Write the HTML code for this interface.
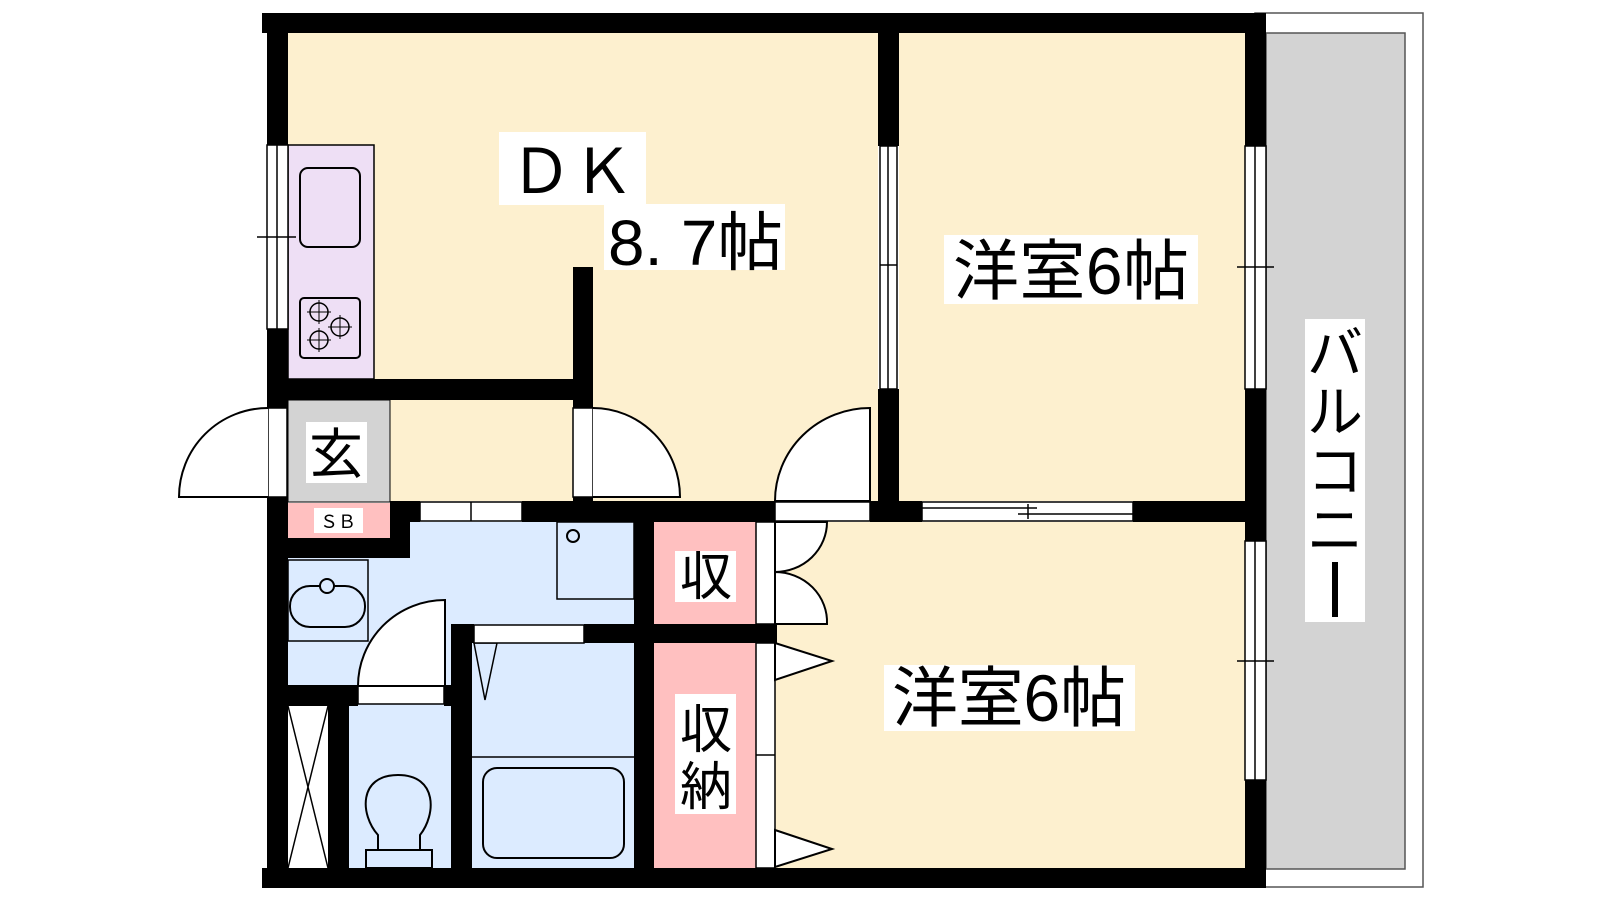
<!DOCTYPE html>
<html><head><meta charset="utf-8"><style>
html,body{margin:0;padding:0;background:#fff;width:1600px;height:900px;overflow:hidden}
svg{display:block}
text{font-family:"Liberation Sans","Noto Sans CJK JP",sans-serif;fill:#000}
</style></head><body>
<svg width="1600" height="900" viewBox="0 0 1600 900" xmlns="http://www.w3.org/2000/svg">
<!-- balcony -->
<rect x="1255" y="13" width="168" height="874" fill="#fff" stroke="#555" stroke-width="1.5"/>
<rect x="1266" y="33" width="139" height="836" fill="#d3d3d3" stroke="#555" stroke-width="1.5"/>
<!-- room fills -->
<rect x="288" y="33" width="590" height="468" fill="#fdf0cf"/>
<rect x="899" y="33" width="346" height="468" fill="#fdf0cf"/>
<rect x="775" y="522" width="470" height="346" fill="#fdf0cf"/>
<rect x="288" y="145" width="86" height="234" fill="#eedff5" stroke="#000" stroke-width="1.5"/>
<rect x="300" y="168" width="60" height="79" rx="8" fill="none" stroke="#000" stroke-width="2"/>
<rect x="300" y="298" width="60" height="60" rx="4" fill="none" stroke="#000" stroke-width="2"/>
<g fill="none" stroke="#000" stroke-width="1.5">
<circle cx="319" cy="312" r="9"/><circle cx="340" cy="327" r="9"/><circle cx="319" cy="340" r="9"/>
<path d="M319 300v24M307 312h24M340 315v24M328 327h24M319 328v24M307 340h24" stroke-width="1"/>
</g>
<rect x="288" y="400" width="102" height="102" fill="#d3d3d3" stroke="#000" stroke-width="1"/>
<!-- wet area -->
<rect x="288" y="522" width="346" height="346" fill="#dcebff"/>
<rect x="288" y="503" width="102" height="35" fill="#ffc0c0"/>
<rect x="288" y="560" width="80" height="81" fill="none" stroke="#000" stroke-width="1.5"/>
<rect x="290" y="586" width="75" height="41" rx="20" fill="none" stroke="#000" stroke-width="2"/>
<circle cx="327" cy="586" r="7" fill="#dcebff" stroke="#000" stroke-width="2"/>
<rect x="557" y="522" width="77" height="77" fill="none" stroke="#000" stroke-width="1.5"/>
<circle cx="573" cy="536" r="6" fill="none" stroke="#000" stroke-width="2"/>
<line x1="472" y1="757" x2="634" y2="757" stroke="#000" stroke-width="1.5"/>
<rect x="483" y="768" width="141" height="90" rx="14" fill="none" stroke="#000" stroke-width="2"/>
<polygon points="474,643 497,643 485,700" fill="none" stroke="#000" stroke-width="1.5"/>
<rect x="288" y="706" width="40" height="162" fill="#fff"/>
<path d="M288 706 L328 868 M328 706 L288 868" stroke="#000" stroke-width="1.5"/>
<path d="M378 850 L378 835 C360 815 358 775 398 775 C438 775 436 815 420 835 L420 850" fill="none" stroke="#000" stroke-width="2"/>
<rect x="366" y="850" width="66" height="18" fill="none" stroke="#000" stroke-width="2"/>
<!-- closets -->
<rect x="654" y="522" width="102" height="102" fill="#ffc0c0"/>
<rect x="654" y="643" width="102" height="225" fill="#ffc0c0"/>
<rect x="756" y="522" width="19" height="102" fill="#fff" stroke="#000" stroke-width="1.5"/>
<rect x="756" y="643" width="19" height="225" fill="#fff" stroke="#000" stroke-width="1.5"/>
<line x1="756" y1="755" x2="775" y2="755" stroke="#000" stroke-width="1.5"/>
<path d="M775 572 A52 50 0 0 0 827 522 L775 522 Z M775 572 A52 50 0 0 1 827 624 L775 624 Z" fill="#fff" stroke="#000" stroke-width="2"/>
<polygon points="775,643 832,661 775,680" fill="#fff" stroke="#000" stroke-width="2"/>
<polygon points="775,830 832,849 775,867" fill="#fff" stroke="#000" stroke-width="2"/>
<!-- walls -->
<g fill="#000">
<rect x="262" y="13" width="1004" height="20"/>
<rect x="267" y="13" width="21" height="132"/>
<rect x="267" y="329" width="21" height="79"/>
<rect x="267" y="497" width="21" height="391"/>
<rect x="262" y="868" width="1004" height="20"/>
<rect x="1245" y="13" width="21" height="133"/>
<rect x="1245" y="389" width="21" height="152"/>
<rect x="1245" y="780" width="21" height="108"/>
<rect x="267" y="379" width="326" height="21"/>
<rect x="573" y="267" width="20" height="141"/>
<rect x="573" y="497" width="20" height="25"/>
<rect x="878" y="13" width="21" height="133"/>
<rect x="878" y="389" width="21" height="133"/>
<rect x="390" y="501" width="30" height="21"/>
<rect x="522" y="501" width="253" height="21"/>
<rect x="870" y="501" width="52" height="21"/>
<rect x="1133" y="501" width="112" height="21"/>
<rect x="390" y="501" width="20" height="57"/>
<rect x="288" y="538" width="122" height="20"/>
<rect x="634" y="501" width="20" height="387"/>
<rect x="584" y="624" width="193" height="19"/>
<rect x="451" y="624" width="23" height="19"/>
<rect x="451" y="624" width="21" height="264"/>
<rect x="288" y="685" width="70" height="21"/>
<rect x="444" y="685" width="10" height="21"/>
<rect x="328" y="705" width="21" height="163"/>
</g>
<!-- windows / frames -->
<g fill="#fff" stroke="#000" stroke-width="1.5">
<rect x="267" y="145" width="21" height="184"/>
<rect x="1245" y="146" width="21" height="243"/>
<rect x="1245" y="541" width="21" height="239"/>
<rect x="880" y="146" width="17" height="243"/>
<rect x="268" y="408" width="19" height="89"/>
<rect x="573" y="408" width="20" height="89"/>
<rect x="420" y="502" width="102" height="19"/>
<rect x="775" y="502" width="95" height="19"/>
<rect x="922" y="502" width="211" height="19"/>
<rect x="474" y="625" width="110" height="18"/>
<rect x="358" y="686" width="86" height="18"/>
</g>
<g stroke="#000" stroke-width="1.5" fill="none">
<line x1="277" y1="145" x2="277" y2="329"/><line x1="257" y1="237" x2="296" y2="237"/>
<line x1="1255" y1="146" x2="1255" y2="389"/><line x1="1237" y1="267" x2="1274" y2="267"/>
<line x1="1255" y1="541" x2="1255" y2="780"/><line x1="1237" y1="661" x2="1274" y2="661"/>
<line x1="888" y1="146" x2="888" y2="389"/><line x1="880" y1="265" x2="897" y2="265"/>
<line x1="471" y1="502" x2="471" y2="521"/>
<line x1="922" y1="508" x2="1037" y2="508"/><line x1="1018" y1="514" x2="1133" y2="514"/><line x1="1028" y1="504" x2="1028" y2="519"/>
</g>
<!-- doors -->
<g fill="#fff" stroke="#000" stroke-width="2">
<path d="M268 408 A89 89 0 0 0 179 497 L268 497"/>
<path d="M593 408 A87 89 0 0 1 680 497 L593 497"/>
<path d="M870 408 A95 93 0 0 0 775 501 L870 501 Z"/>
<path d="M445 600 A87 86 0 0 0 358 686 L445 686 Z"/>
</g>
<!-- labels -->
<g fill="#fff">
<rect x="499" y="132" width="147" height="73"/>
<rect x="604" y="204" width="181" height="66"/>
<rect x="944" y="235" width="254" height="69"/>
<rect x="884" y="665" width="251" height="66"/>
<rect x="306" y="422" width="61" height="61"/>
<rect x="314" y="508" width="49" height="25"/>
<rect x="675" y="551" width="61" height="51"/>
<rect x="675" y="694" width="61" height="120"/>
<rect x="1305" y="319" width="60" height="303"/>
</g>
<text x="572" y="193" font-size="62" text-anchor="middle">ＤＫ</text>
<text x="608" y="265" font-size="64" textLength="175" lengthAdjust="spacingAndGlyphs">8. 7帖</text>
<text x="1071" y="294" font-size="66" text-anchor="middle" textLength="236">洋室6帖</text>
<text x="1009" y="721" font-size="66" text-anchor="middle" textLength="234">洋室6帖</text>
<text x="336" y="473" font-size="54" text-anchor="middle">玄</text>
<text x="338" y="528" font-size="18" text-anchor="middle">ＳＢ</text>
<text x="706" y="595" font-size="52" text-anchor="middle">収</text>
<text x="706" y="748" font-size="52" text-anchor="middle">収</text>
<text x="706" y="805" font-size="52" text-anchor="middle">納</text>
<g font-size="56" text-anchor="middle">
<text x="1335" y="373">バ</text>
<text x="1335" y="432">ル</text>
<text x="1335" y="491">コ</text>
<text x="1335" y="550">ニ</text>
</g>
<rect x="1332" y="562" width="6" height="55" fill="#000"/>
</svg>
</body></html>
